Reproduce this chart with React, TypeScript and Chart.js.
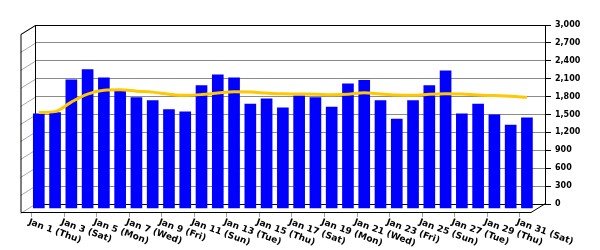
import React, { useEffect, useRef } from "react";
import { Chart, registerables } from "chart.js";

Chart.register(...registerables);

const categories = [
  "Jan 1 (Thu)", "Jan 2 (Fri)", "Jan 3 (Sat)", "Jan 4 (Sun)", "Jan 5 (Mon)",
  "Jan 6 (Tue)", "Jan 7 (Wed)", "Jan 8 (Thu)", "Jan 9 (Fri)", "Jan 10 (Sat)",
  "Jan 11 (Sun)", "Jan 12 (Mon)", "Jan 13 (Tue)", "Jan 14 (Wed)", "Jan 15 (Thu)",
  "Jan 16 (Fri)", "Jan 17 (Sat)", "Jan 18 (Sun)", "Jan 19 (Mon)", "Jan 20 (Tue)",
  "Jan 21 (Wed)", "Jan 22 (Thu)", "Jan 23 (Fri)", "Jan 24 (Sat)", "Jan 25 (Sun)",
  "Jan 26 (Mon)", "Jan 27 (Tue)", "Jan 28 (Wed)", "Jan 29 (Thu)", "Jan 30 (Fri)",
  "Jan 31 (Sat)",
];

const dailyValues = [
  1580, 1600, 2150, 2320, 2180, 1970, 1850, 1800, 1650, 1610,
  2050, 2230, 2180, 1740, 1830, 1680, 1880, 1850, 1690, 2080,
  2140, 1800, 1490, 1800, 2050, 2300, 1580, 1740, 1560, 1390,
  1510,
];

const averageValues = [
  1600, 1615, 1775, 1908, 1972, 1980, 1958, 1942, 1908, 1888,
  1901, 1926, 1948, 1943, 1926, 1913, 1910, 1908, 1899, 1906,
  1930, 1910, 1893, 1888, 1906, 1915, 1910, 1893, 1884, 1874,
  1854,
];

const yAxisMin = 0;
const yAxisMax = 3000;
const yAxisStep = 300;

// 3D geometry (pixels)
const DEPTH_X = 14.5;
const DEPTH_Y = 9;
const BAR_DROP = 4; // bars sit in a plane slightly in front of the back wall
const PAD_TOP = 25;
const PAD_BOTTOM = 46;
const PLOT_HEIGHT = 250 - PAD_TOP - PAD_BOTTOM;
const FONT = '"DejaVu Sans", Verdana, sans-serif';

const frame3d = {
  id: "frame3d",
  beforeDatasetsDraw(chart: any) {
    const { ctx, chartArea } = chart;
    const { left, right, top, bottom } = chartArea;
    const ys = chart.scales.y;
    ctx.save();
    ctx.lineWidth = 1;
    // side wall slanted grid lines
    ctx.strokeStyle = "#a8a8a8";
    for (let v = yAxisMin; v <= yAxisMax; v += yAxisStep) {
      const y = Math.round(ys.getPixelForValue(v)) + 0.5;
      ctx.beginPath();
      ctx.moveTo(left, y);
      ctx.lineTo(left - DEPTH_X, y + DEPTH_Y);
      ctx.stroke();
    }
    // x tick marks on floor front
    const xs = chart.scales.x;
    ctx.strokeStyle = "#a0a0a0";
    for (let i = 0; i < categories.length; i += 2) {
      const x = Math.round(xs.getPixelForValue(i) - 7.7) + 0.5;
      ctx.beginPath();
      ctx.moveTo(x, bottom + DEPTH_Y);
      ctx.lineTo(x, bottom + DEPTH_Y + 4);
      ctx.stroke();
    }
    // frame lines
    ctx.strokeStyle = "#000";
    const L = Math.round(left) + 0.5;
    const T = Math.round(top) + 0.5;
    const B = Math.round(bottom) - 0.5;
    const R = Math.round(right) + 0.5;
    const FL = L - DEPTH_X;
    const FB = B + DEPTH_Y;
    ctx.beginPath();
    ctx.moveTo(L, B);
    ctx.lineTo(L, T);
    ctx.moveTo(L, T);
    ctx.lineTo(FL, T + DEPTH_Y);
    ctx.lineTo(FL, FB);
    ctx.lineTo(R - DEPTH_X, FB);
    ctx.lineTo(R, B);
    ctx.stroke();
    ctx.restore();
  },
  afterDraw(chart: any) {
    const { ctx, chartArea } = chart;
    const xs = chart.scales.x;
    ctx.save();
    ctx.font = `bold 9px ${FONT}`;
    ctx.fillStyle = "#000";
    ctx.textAlign = "left";
    ctx.textBaseline = "top";
    for (let i = 0; i < categories.length; i += 2) {
      const x = xs.getPixelForValue(i) - 8.5;
      const y = chartArea.bottom + DEPTH_Y + 4.5;
      ctx.save();
      ctx.translate(x, y);
      ctx.rotate((20 * Math.PI) / 180);
      ctx.fillText(categories[i], 0, 0);
      ctx.restore();
    }
    ctx.restore();
  },
};

export default function App() {
  const ref = useRef<HTMLCanvasElement>(null);
  useEffect(() => {
    if (!ref.current) return;
    const drop = (BAR_DROP * (yAxisMax - yAxisMin)) / PLOT_HEIGHT;
    const chart = new Chart(ref.current, {
      type: "bar",
      data: {
        datasets: [
          {
            type: "line",
            label: "Average",
            data: averageValues.map((v, i) => ({ x: i, y: v })),
            borderColor: "rgb(255,200,0)",
            borderWidth: 3,
            pointRadius: 0,
            cubicInterpolationMode: "monotone",
            xAxisID: "x",
            yAxisID: "yb",
            order: 0,
            clip: false,
          } as any,
          {
            type: "bar",
            label: "Daily",
            data: dailyValues.map((v, i) => ({ x: i, y: [0, v] })),
            backgroundColor: "#0000FF",
            borderWidth: 0,
            barThickness: 11,
            xAxisID: "x",
            yAxisID: "yb",
            order: 1,
            clip: false,
          } as any,
        ],
      },
      options: {
        responsive: false,
        animation: false,
        layout: { padding: { left: 35, top: PAD_TOP, right: 0, bottom: PAD_BOTTOM } },
        plugins: { legend: { display: false }, tooltip: { enabled: false } },
        scales: {
          x: {
            type: "linear",
            display: false,
            offset: false,
            min: -0.2336,
            max: 31.11,
          },
          yb: {
            type: "linear",
            display: false,
            min: yAxisMin + drop,
            max: yAxisMax + drop,
          },
          y: {
            type: "linear",
            position: "right",
            min: yAxisMin,
            max: yAxisMax,
            afterFit: (s: any) => {
              s.width = 55;
            },
            ticks: {
              stepSize: yAxisStep,
              color: "#000",
              padding: 4,
              font: { family: FONT, size: 8, weight: "bold" },
              callback: (v: any) => Number(v).toLocaleString("en-US"),
            },
            grid: {
              color: (c: any) =>
                c.tick && (c.tick.value === yAxisMin || c.tick.value === yAxisMax) ? "#000" : "#8a8a8a",
              tickColor: "#000",
              tickLength: 6,
            },
            border: { display: true, color: "#000" },
          },
        },
      },
      plugins: [frame3d],
    });
    return () => chart.destroy();
  }, []);
  return (
    <div style={{ position: "absolute", left: 0, top: 0, width: 600, height: 250, background: "#fff" }}>
      <canvas ref={ref} width={600} height={250} style={{ width: 600, height: 250 }} />
    </div>
  );
}
